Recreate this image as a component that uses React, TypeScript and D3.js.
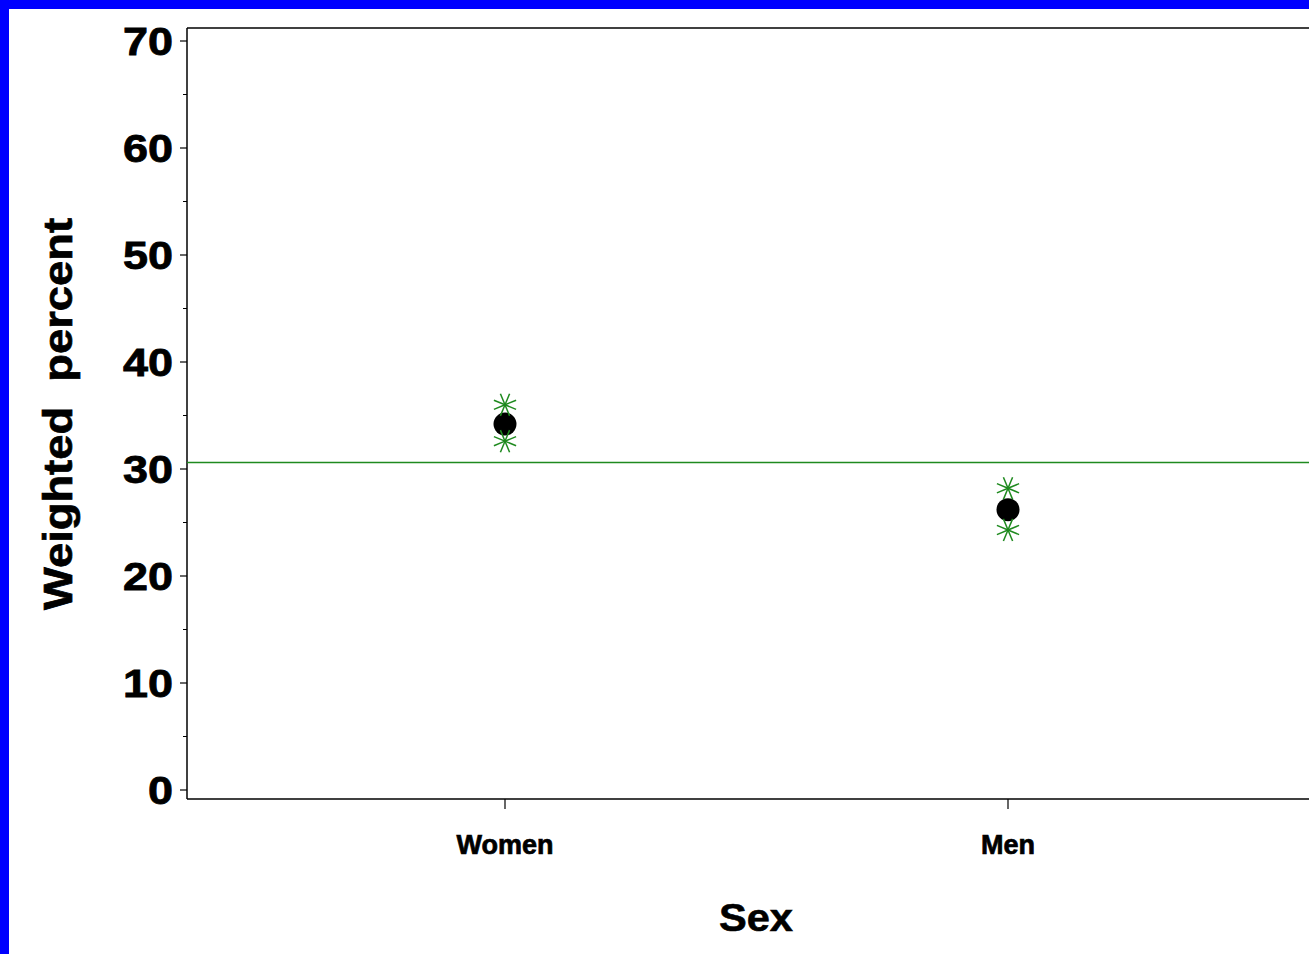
import React from "react";
import * as d3 from "d3";

const categories = ["Women", "Men"];
const estimates = [34.2, 26.2];
const upperCI = [36.0, 28.2];
const lowerCI = [32.6, 24.3];
const referenceLine = 30.6;
const yTicks = [0, 10, 20, 30, 40, 50, 60, 70];
const yMinorTicks = [5, 15, 25, 35, 45, 55, 65];

const W = 1309;
const H = 954;

export default function App() {
  const left = 187;
  const right = 1320;
  const top = 28;
  const bottom = 799;
  const y = d3.scaleLinear().domain([0, 70]).range([790, 41]);
  const x = d3.scalePoint<string>().domain(categories).range([505, 1008]);
  const font = "'Liberation Sans', Arial, Helvetica, sans-serif";
  const green = "#1f8a1f";

  const asterisk = (cx: number, cy: number, key: string) => {
    const r = 12;
    const lines = d3.range(8).map((i) => {
      const a = (i * Math.PI) / 4 + Math.PI / 8;
      return (
        <line
          key={i}
          x1={cx}
          y1={cy}
          x2={cx + r * Math.cos(a)}
          y2={cy + r * Math.sin(a)}
          stroke={green}
          strokeWidth={1.5}
        />
      );
    });
    return <g key={key}>{lines}</g>;
  };

  return (
    <svg
      width={W}
      height={H}
      style={{ position: "absolute", left: 0, top: 0, display: "block" }}
    >
      <rect x={0} y={0} width={W} height={H} fill="#0000ff" />
      <rect x={9} y={9} width={W - 9} height={H - 9} fill="#ffffff" />
      {/* plot frame */}
      <line x1={left} y1={top} x2={right} y2={top} stroke="#000" strokeWidth={1.5} />
      <line x1={left} y1={top} x2={left} y2={bottom} stroke="#000" strokeWidth={1.5} />
      <line x1={left} y1={bottom} x2={right} y2={bottom} stroke="#000" strokeWidth={1.5} />
      {/* y ticks */}
      {yTicks.map((t) => (
        <g key={"t" + t}>
          <line x1={180} x2={left} y1={y(t)} y2={y(t)} stroke="#000" strokeWidth={1.2} />
          <text
            x={173}
            y={y(t) + 14}
            textAnchor="end"
            fontFamily={font}
            fontWeight="bold"
            fontSize={38}
            textLength={String(t).length * 25}
            lengthAdjust="spacingAndGlyphs"
            fill="#000"
            stroke="#000"
            strokeWidth={0.8}
          >
            {t}
          </text>
        </g>
      ))}
      {yMinorTicks.map((t) => (
        <line key={"m" + t} x1={183} x2={left} y1={y(t)} y2={y(t)} stroke="#000" strokeWidth={1} />
      ))}
      {/* x ticks */}
      {categories.map((c) => (
        <g key={c}>
          <line x1={x(c)!} x2={x(c)!} y1={bottom} y2={809} stroke="#000" strokeWidth={1.2} />
          <text
            x={x(c)!}
            y={854}
            textAnchor="middle"
            fontFamily={font}
            fontWeight="bold"
            fontSize={27}
            fill="#000"
            stroke="#000"
            strokeWidth={0.7}
          >
            {c}
          </text>
        </g>
      ))}
      {/* reference line */}
      <line
        x1={left}
        x2={right}
        y1={y(referenceLine)}
        y2={y(referenceLine)}
        stroke={green}
        strokeWidth={1.5}
      />
      {/* points */}
      {categories.map((c, i) => (
        <g key={"p" + c}>
          <circle cx={x(c)!} cy={y(estimates[i])} r={11.5} fill="#000" />
          {asterisk(x(c)!, y(upperCI[i]), "u" + c)}
          {asterisk(x(c)!, y(lowerCI[i]), "l" + c)}
        </g>
      ))}
      {/* axis titles */}
      <text
        x={756}
        y={931}
        textAnchor="middle"
        fontFamily={font}
        fontWeight="bold"
        fontSize={38}
        textLength={74}
        lengthAdjust="spacingAndGlyphs"
        fill="#000"
        stroke="#000"
        strokeWidth={0.6}
      >
        Sex
      </text>
      <text
        transform="translate(72,414) rotate(-90)"
        textAnchor="middle"
        fontFamily={font}
        fontWeight="bold"
        fontSize={40}
        textLength={392}
        lengthAdjust="spacingAndGlyphs"
        fill="#000"
        stroke="#000"
        strokeWidth={0.7}
        xmlSpace="preserve"
      >
        {"Weighted  percent"}
      </text>
    </svg>
  );
}
